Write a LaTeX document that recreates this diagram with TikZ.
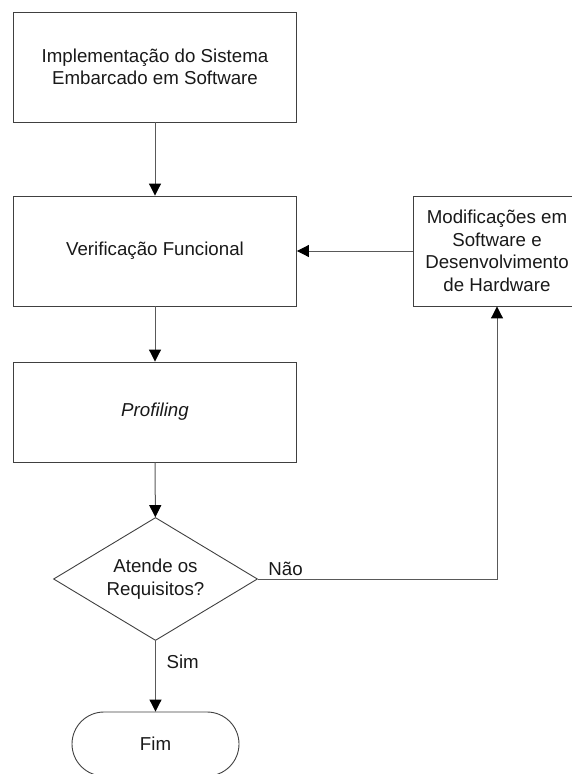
\documentclass[tikz,border=0pt]{standalone}
\usepackage{fontspec}
\setmainfont{Liberation Sans}
\usetikzlibrary{arrows.meta,shapes.geometric,shapes.misc}

\begin{document}
\begin{tikzpicture}[x=1pt,y=-1pt,
  every node/.style={font=\fontsize{18.7}{22.5}\selectfont, text=black!90},
  outline/.style={draw=black!75, line width=0.9pt, inner sep=0pt, align=center},
  stepbox/.style={outline, minimum width=283pt},
  flow/.style={draw=black!65, line width=1pt,
    -{Triangle[length=12pt,width=12pt,color=black]}},
]
\useasboundingbox (0,0) rectangle (572,774);

% process steps
\node[stepbox, minimum height=110pt] (impl) at (155,67)
  {Implementação do Sistema\\Embarcado em Software};
\node[stepbox, minimum height=110pt] (verif) at (155,251)
  {Verificação Funcional};
\node[stepbox, minimum height=100pt] (prof) at (155,412)
  {\itshape Profiling};
\node[outline, minimum width=168pt, minimum height=110pt] (mod) at (497,251)
  {Modificações em\\Software e\\Desenvolvimento\\de Hardware};

% decision and terminator
\node[outline, diamond, aspect=1.66, minimum width=204pt, minimum height=123pt]
  (req) at (155.5,579) {Atende os\\Requisitos?};
\node[outline, rounded rectangle, minimum width=167pt, minimum height=64pt]
  (fim) at (155.5,744) {Fim};

% connectors
\draw[flow] (impl) -- (verif);
\draw[flow] (mod) -- (verif);
\draw[flow] (verif) -- (prof);
\draw[flow] (prof) -- (req);
\draw[flow] (req.east) -| (mod.south);
\draw[flow] (req) -- (fim);

% branch labels
\node[anchor=base west] (nao) at ([xshift=7pt,yshift=4pt]req.east) {Não};
\node[anchor=base west] (sim) at (163,668) {Sim};
\end{tikzpicture}
\end{document}
